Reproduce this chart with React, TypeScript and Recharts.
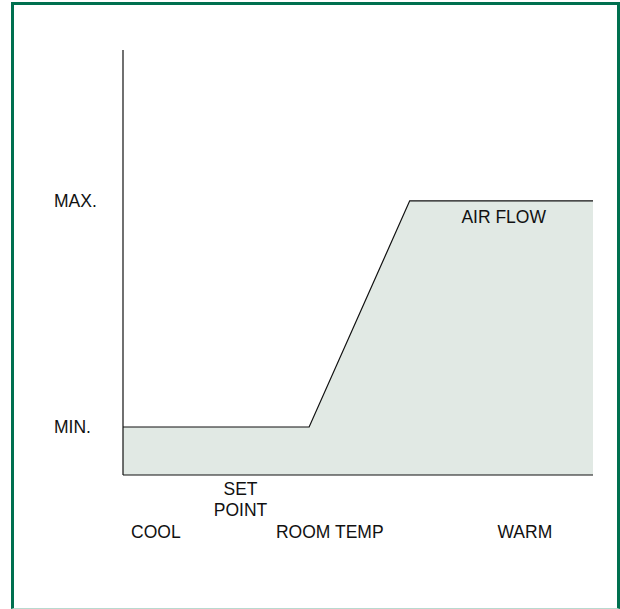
import { AreaChart, Area, XAxis, YAxis, ReferenceDot } from 'recharts';

// room temperature scale 0..100, air flow scale 0..100
const temps = [0, 39.6, 61, 100];
const airflow = [11.3, 11.3, 64.5, 64.5];

const xTicks = [7, 25, 44, 85.5];
const xTickLabels = ['COOL', 'SET\nPOINT', 'ROOM TEMP', 'WARM'];

const yTicks = [11.3, 64.5];
const yTickLabels = ['MIN.', 'MAX.'];

const areaLabel = 'AIR FLOW';

const data = temps.map((t, i) => ({ temp: t, flow: airflow[i] }));

const font = 'Liberation Sans, Arial, Helvetica, sans-serif';
const fs = 17.5;

function XTick(props: any) {
  const { x, y, payload, index } = props;
  const label = xTickLabels[index] ?? String(payload.value);
  const lines = label.split('\n');
  // two-line label sits just under the axis, single-line ones lower
  const startDy = lines.length > 1 ? 19.5 : 63;
  return (
    <text x={x} y={y} textAnchor="middle" fontFamily={font} fontSize={fs} fill="#111">
      {lines.map((ln: string, i: number) => (
        <tspan key={i} x={x} dy={i === 0 ? startDy : 21.5}>{ln}</tspan>
      ))}
    </text>
  );
}

function YTick(props: any) {
  const { x, y, index } = props;
  return (
    <text x={x - 69} y={y} dy="0.35em" textAnchor="start" fontFamily={font} fontSize={fs} fill="#111">
      {yTickLabels[index]}
    </text>
  );
}

export default function App() {
  return (
    <div style={{ position: 'absolute', left: 0, top: 0, width: 620, height: 609, background: '#fff' }}>
      <div
        style={{
          position: 'absolute',
          left: 11,
          top: 2,
          width: 609,
          height: 607,
          boxSizing: 'border-box',
          borderTop: '3px solid #00704f',
          borderLeft: '3px solid #00704f',
          borderRight: '3px solid #00704f',
          borderBottom: '1px solid #b9d9cf',
        }}
      />
      <div style={{ position: 'absolute', left: 0, top: 0 }}>
        <AreaChart
          width={620}
          height={609}
          data={data}
          margin={{ top: 50, right: 27, bottom: 64, left: 55 }}
        >
          <XAxis
            dataKey="temp"
            type="number"
            domain={[0, 100]}
            ticks={xTicks}
            interval={0}
            tickLine={false}
            tickSize={0}
            tickMargin={0}
            axisLine={{ stroke: '#111', strokeWidth: 1.2 }}
            tick={<XTick />}
            height={70}
          />
          <YAxis
            type="number"
            domain={[0, 100]}
            ticks={yTicks}
            interval={0}
            tickLine={false}
            tickSize={0}
            tickMargin={0}
            axisLine={{ stroke: '#111', strokeWidth: 1.2 }}
            tick={<YTick />}
            width={68}
          />
          <Area
            type="linear"
            dataKey="flow"
            stroke="#111"
            strokeWidth={1.2}
            fill="#e1e9e4"
            fillOpacity={1}
            baseValue={0}
            isAnimationActive={false}
            dot={false}
            activeDot={false}
          />
          <ReferenceDot
            x={81}
            y={60.8}
            r={0}
            fill="none"
            stroke="none"
            label={{ value: areaLabel, position: 'center', fontFamily: font, fontSize: fs, fill: '#111' }}
          />
        </AreaChart>
      </div>
    </div>
  );
}
